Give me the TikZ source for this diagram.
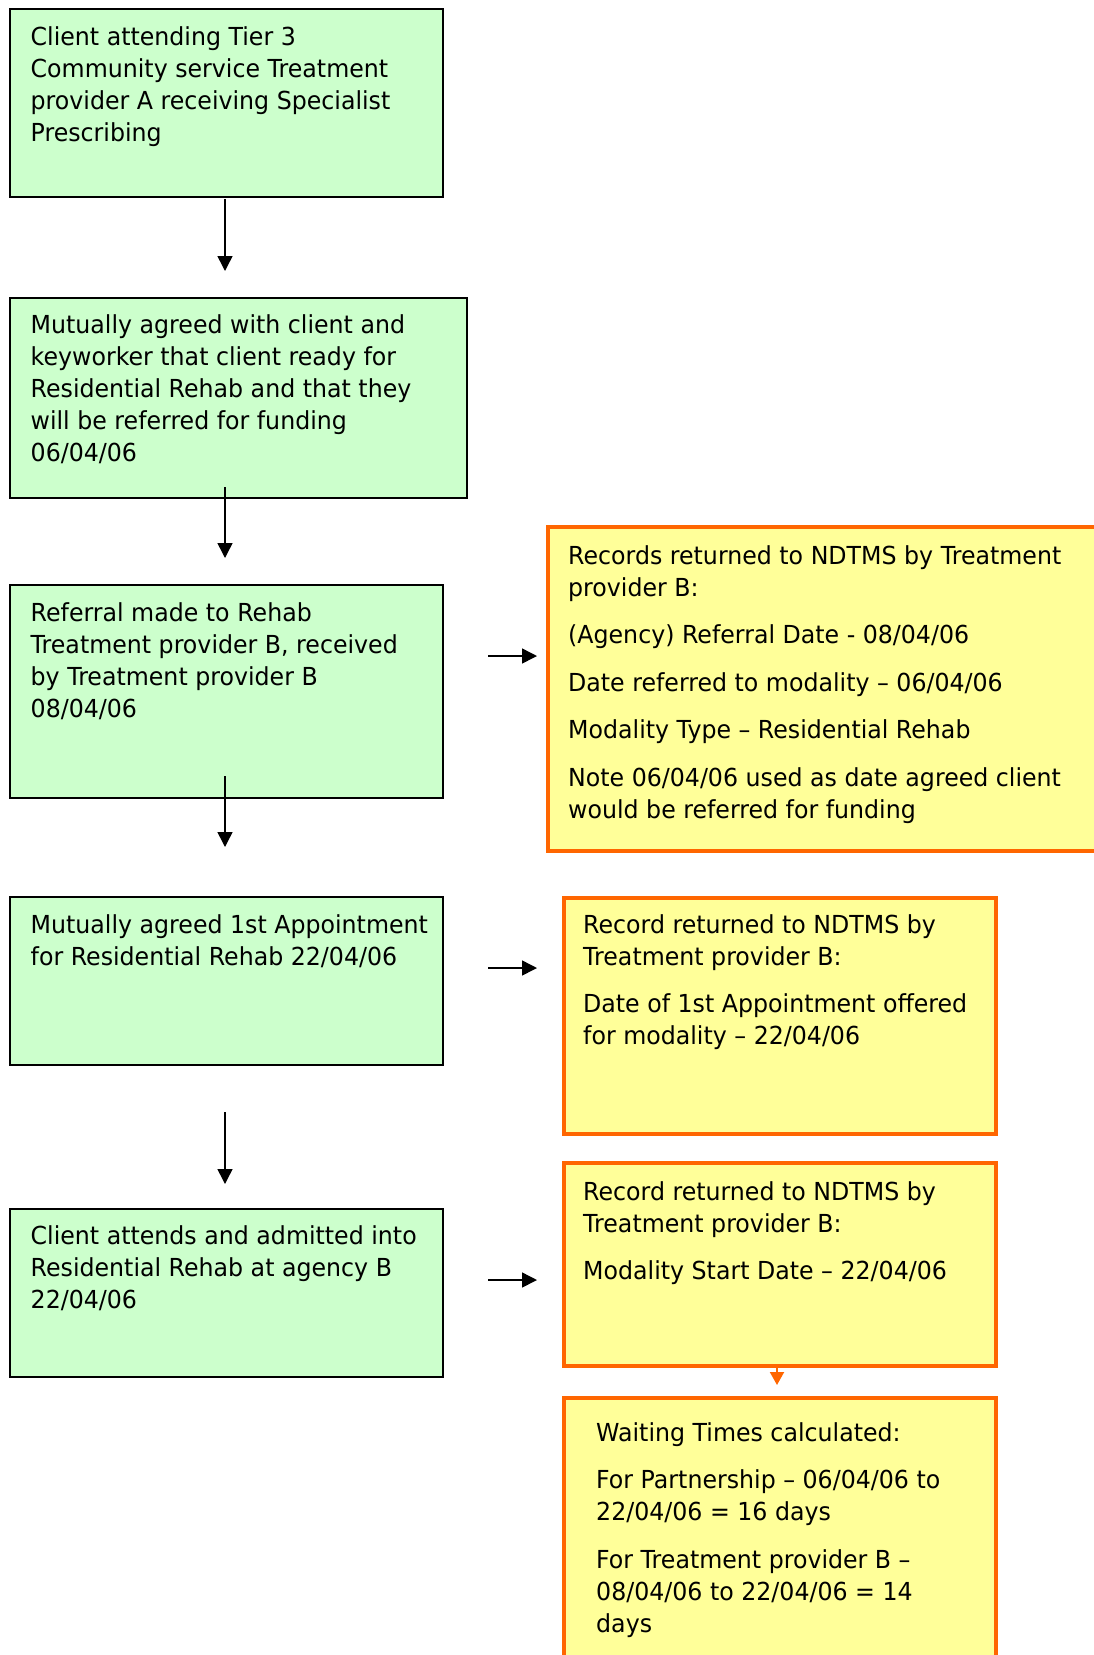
\documentclass[tikz,border=0pt]{standalone}
\usepackage{fontspec}
\setmainfont{DejaVu Sans}[FakeStretch=0.955]
\usetikzlibrary{arrows.meta}
\definecolor{gfill}{HTML}{CCFFCC}
\definecolor{yfill}{HTML}{FFFF99}
\definecolor{orng}{HTML}{FF6600}
\tikzset{
  gbox/.style={draw=black, line width=2pt, fill=gfill, rectangle, anchor=north west, inner sep=0pt},
  ybox/.style={draw=orng, line width=4pt, fill=yfill, rectangle, anchor=north west, inner sep=0pt},
  txt/.style={anchor=north west, inner sep=0pt, align=left,
    font=\fontsize{24.8pt}{32pt}\selectfont},
  darr/.style={line width=1.5pt, -{Triangle[length=15pt,width=15pt]}},
  oarr/.style={draw=orng, line width=2pt, -{Triangle[length=13pt,width=14pt]}},
}
\newcommand{\fl}{\rule{0pt}{20pt}}
\begin{document}
\begin{tikzpicture}[x=1pt,y=-1pt]
\useasboundingbox (0,0) rectangle (1093,1655);
% green boxes
\node[gbox, minimum width=433pt, minimum height=188pt] (b1) at (9,8) {};
\node[gbox, minimum width=457pt, minimum height=200pt] (b2) at (9,297) {};
\node[gbox, minimum width=433pt, minimum height=213pt] (b3) at (9,584) {};
\node[gbox, minimum width=433pt, minimum height=168pt] (b4) at (9,896) {};
\node[gbox, minimum width=433pt, minimum height=168pt] (b5) at (9,1208) {};
% yellow boxes
\node[ybox, minimum width=560pt, minimum height=324pt] (y1) at (546,525) {};
\node[ybox, minimum width=432pt, minimum height=236pt] (y2) at (562,896) {};
\node[ybox, minimum width=432pt, minimum height=203pt] (y3) at (562,1161) {};
\node[ybox, minimum width=432pt, minimum height=280pt] (y4) at (562,1396) {};
% texts
\node[txt] (t1) at (30.5,25) {\fl Client attending Tier 3\\Community service Treatment\\provider A receiving Specialist\\Prescribing};
\node[txt] (t2) at (30.5,313) {\fl Mutually agreed with client and\\keyworker that client ready for\\Residential Rehab and that they\\will be referred for funding\\06/04/06};
\node[txt] (t3) at (30.5,601) {\fl Referral made to Rehab\\Treatment provider B, received\\by Treatment provider B\\08/04/06};
\node[txt] (t4) at (30.5,913) {\fl Mutually agreed 1st Appointment\\for Residential Rehab 22/04/06};
\node[txt] (t5) at (30.5,1224) {\fl Client attends and admitted into\\Residential Rehab at agency B\\22/04/06};
\node[txt] (ty1) at (568,544) {\fl Records returned to NDTMS by Treatment\\provider B:\\[15.5pt]
(Agency) Referral Date - 08/04/06\\[15.5pt]
Date referred to modality – 06/04/06\\[15.5pt]
Modality Type – Residential Rehab\\[15.5pt]
Note 06/04/06 used as date agreed client\\would be referred for funding};
\node[txt] (ty2) at (583,913) {\fl Record returned to NDTMS by\\Treatment provider B:\\[15.5pt]
Date of 1st Appointment offered\\for modality – 22/04/06};
\node[txt] (ty3) at (583,1180) {\fl Record returned to NDTMS by\\Treatment provider B:\\[15.5pt]
Modality Start Date – 22/04/06};
\node[txt] (ty4) at (596,1421) {\fl Waiting Times calculated:\\[15.5pt]
For Partnership – 06/04/06 to\\22/04/06 = 16 days\\[15.5pt]
For Treatment provider B –\\08/04/06 to 22/04/06 = 14\\days};
% arrow end points
\coordinate (d1s) at (225,199); \coordinate (d1e) at (225,271);
\coordinate (d2s) at (225,487); \coordinate (d2e) at (225,558);
\coordinate (d3s) at (225,776); \coordinate (d3e) at (225,847);
\coordinate (d4s) at (225,1112); \coordinate (d4e) at (225,1184);
\coordinate (r1s) at (488,656); \coordinate (r1e) at (537,656);
\coordinate (r2s) at (488,968); \coordinate (r2e) at (537,968);
\coordinate (r3s) at (488,1280); \coordinate (r3e) at (537,1280);
\coordinate (os) at (777,1366); \coordinate (oe) at (777,1385);
\draw[darr] (d1s) -- (d1e);
\draw[darr] (d2s) -- (d2e);
\draw[darr] (d3s) -- (d3e);
\draw[darr] (d4s) -- (d4e);
\draw[darr] (r1s) -- (r1e);
\draw[darr] (r2s) -- (r2e);
\draw[darr] (r3s) -- (r3e);
\draw[oarr] (os) -- (oe);
\end{tikzpicture}
\end{document}
